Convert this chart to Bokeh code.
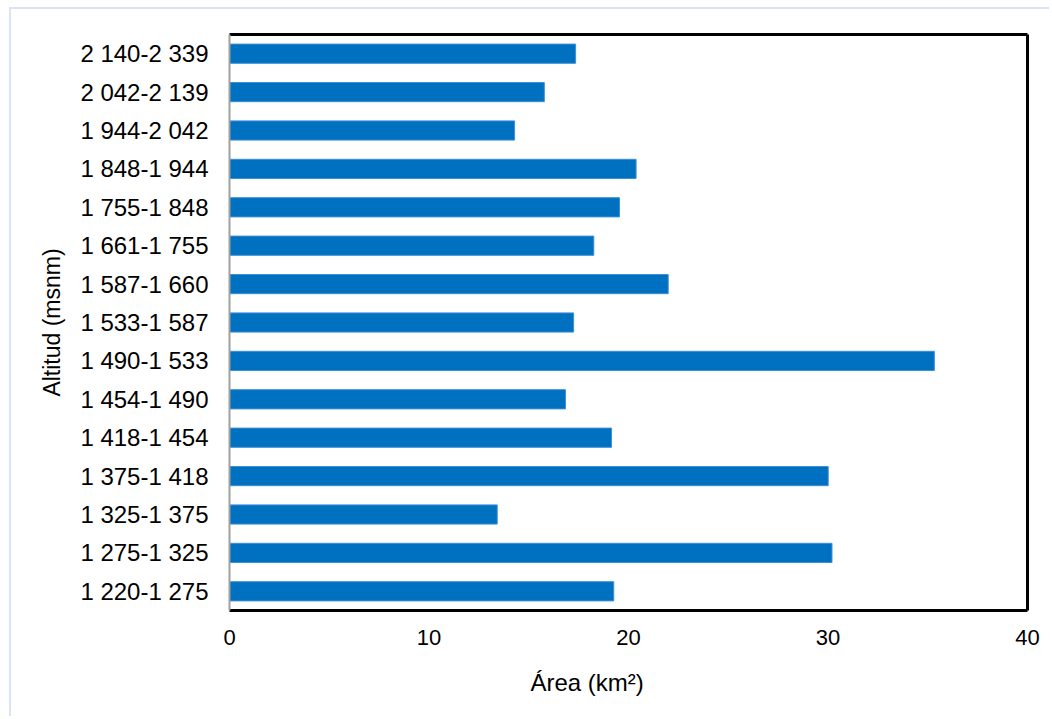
from bokeh.plotting import figure
from bokeh.models import FactorRange, Range1d, LinearAxis, CategoricalAxis, FixedTicker, ColumnDataSource, Title
from bokeh.embed import file_html
from bokeh.resources import INLINE

# Data (bottom to top)
altitudes = [
    "1 220-1 275", "1 275-1 325", "1 325-1 375", "1 375-1 418", "1 418-1 454",
    "1 454-1 490", "1 490-1 533", "1 533-1 587", "1 587-1 660", "1 661-1 755",
    "1 755-1 848", "1 848-1 944", "1 944-2 042", "2 042-2 139", "2 140-2 339",
]
areas = [19.26, 30.20, 13.42, 30.01, 19.15,
         16.84, 35.33, 17.25, 21.99, 18.26,
         19.55, 20.38, 14.29, 15.78, 17.35]
x_ticks = [0, 10, 20, 30, 40]
x_title = "Área (km²)"
y_title = "Altitud (msnm)"

FONT = "Liberation Sans"

src = ColumnDataSource(dict(alt=altitudes, area=areas))

p = figure(
    width=1040, height=709,
    y_range=FactorRange(factors=altitudes, range_padding=0),
    x_range=Range1d(0, 40),
    output_backend="svg", toolbar_location=None,
    min_border_left=218, min_border_right=24, min_border_top=25, min_border_bottom=108,
)
p.styles = {"border-top": "2px solid #dae3f3", "border-left": "2px solid #dae3f3",
            "margin-left": "9px", "margin-top": "7px"}

p.hbar(y="alt", right="area", left=0, height=0.5, source=src,
       fill_color="#0070C0", line_color="#3d8fd6", line_width=1)

p.outline_line_color = None
p.xgrid.grid_line_color = None
p.ygrid.grid_line_color = None

# bottom x axis
xa = p.xaxis[0]
xa.ticker = FixedTicker(ticks=x_ticks)
xa.axis_line_color = "black"
xa.axis_line_width = 3
xa.major_tick_line_color = None
xa.minor_tick_line_color = None
xa.major_label_text_font = FONT
xa.major_label_text_font_size = "22px"
xa.major_label_text_color = "black"
xa.major_label_standoff = 13

# x title, centred under the whole chart area rather than the frame
p.add_layout(Title(text=x_title, align="left", offset=301, standoff=38,
                   text_font=FONT, text_font_size="24px", text_font_style="normal",
                   text_color="black"), "below")

# left y axis
ya = p.yaxis[0]
ya.axis_line_color = "#a0a0a0"
ya.axis_line_width = 2
ya.major_tick_line_color = None
ya.minor_tick_line_color = None
ya.major_label_text_font = FONT
ya.major_label_text_font_size = "24px"
ya.major_label_text_color = "black"
ya.major_label_standoff = 15
ya.axis_label = y_title
ya.axis_label_text_font = FONT
ya.axis_label_text_font_size = "23px"
ya.axis_label_text_font_style = "normal"
ya.axis_label_text_color = "black"
ya.axis_label_standoff = 12

# frame lines on top and right
top = LinearAxis(ticker=FixedTicker(ticks=[]), axis_line_color="black", axis_line_width=3,
                 major_tick_line_color=None, minor_tick_line_color=None,
                 major_label_standoff=0)
right = CategoricalAxis(ticker=FixedTicker(ticks=[]), axis_line_color="black", axis_line_width=3,
                        major_tick_line_color=None, minor_tick_line_color=None,
                        major_label_standoff=0)
p.add_layout(top, "above")
p.add_layout(right, "right")

open("out.html", "w").write(file_html(p, INLINE))
